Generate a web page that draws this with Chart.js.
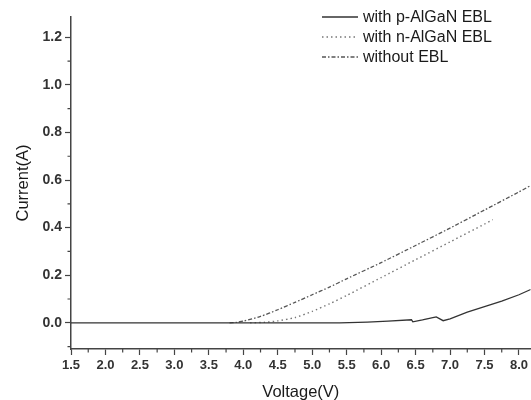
<!DOCTYPE html>
<html>
<head>
<meta charset="utf-8">
<script src="https://cdn.jsdelivr.net/npm/chart.js@4/dist/chart.umd.min.js"></script>
<style>
  html, body { margin: 0; padding: 0; background: #fff; }
  #wrap { width: 531px; height: 400px; position: relative; }
</style>
</head>
<body>
<div id="wrap"><canvas id="chart"></canvas></div>
<script>
// I-V curves for three EBL designs

// series labels
const seriesNames = ['with p-AlGaN EBL', 'with n-AlGaN EBL', 'without EBL'];

// with p-AlGaN EBL (solid)
const pVoltage = [1.5, 5.4, 5.8, 6.1, 6.44, 6.46, 6.6, 6.75, 6.8, 6.9, 7.0, 7.25, 7.5, 7.75, 8.0, 8.17];
const pCurrent = [0, 0, 0.003, 0.007, 0.013, 0.004, 0.012, 0.022, 0.025, 0.009, 0.017, 0.045, 0.068, 0.091, 0.118, 0.14];

// with n-AlGaN EBL (dotted)
const nVoltage = [4.1, 4.3, 4.5, 4.75, 5.0, 5.25, 5.5, 6.0, 6.5, 7.0, 7.5, 7.62];
const nCurrent = [0, 0.002, 0.008, 0.022, 0.048, 0.08, 0.115, 0.19, 0.265, 0.34, 0.415, 0.434];

// without EBL (dash-dot)
const woVoltage = [3.8, 3.9, 4.0, 4.25, 4.5, 4.75, 5.0, 5.25, 5.5, 6.0, 6.5, 7.0, 7.5, 8.0, 8.17];
const woCurrent = [0, 0.002, 0.007, 0.027, 0.055, 0.086, 0.118, 0.15, 0.185, 0.253, 0.325, 0.398, 0.474, 0.55, 0.577];

// axis ticks
const xTicks = [1.5, 2.0, 2.5, 3.0, 3.5, 4.0, 4.5, 5.0, 5.5, 6.0, 6.5, 7.0, 7.5, 8.0];
const yTicks = [0.0, 0.2, 0.4, 0.6, 0.8, 1.0, 1.2];
const xMinor = [1.75, 2.25, 2.75, 3.25, 3.75, 4.25, 4.75, 5.25, 5.75, 6.25, 6.75, 7.25, 7.75];
const yMinor = [-0.1, 0.1, 0.3, 0.5, 0.7, 0.9, 1.1];

const axisColor = '#444';
const textColor = '#333';

function toPoints(xs, ys) {
  return xs.map((x, i) => ({ x: x, y: ys[i] }));
}

// short minor ticks + legend drawn on the canvas
const extrasPlugin = {
  id: 'extras',
  afterDraw(chart) {
    const ctx = chart.ctx;
    const xs = chart.scales.x;
    const ys = chart.scales.y;
    const area = chart.chartArea;
    ctx.save();
    ctx.strokeStyle = axisColor;
    ctx.lineWidth = 1.2;
    ctx.beginPath();
    xMinor.forEach(v => {
      const px = xs.getPixelForValue(v);
      ctx.moveTo(px, area.bottom);
      ctx.lineTo(px, area.bottom + 3.5);
    });
    yMinor.forEach(v => {
      const py = ys.getPixelForValue(v);
      ctx.moveTo(area.left, py);
      ctx.lineTo(area.left - 3.5, py);
    });
    ctx.stroke();

    // legend
    const lx = 322, lw = 36, ly0 = 17, gap = 20;
    ctx.font = '16px "Liberation Sans", Arial, sans-serif';
    ctx.textBaseline = 'middle';
    ctx.fillStyle = '#1a1a1a';
    chart.data.datasets.forEach((ds, i) => {
      const y = ly0 + i * gap;
      ctx.strokeStyle = ds.borderColor;
      ctx.lineWidth = ds.borderWidth;
      ctx.setLineDash(ds.borderDash || []);
      ctx.beginPath();
      ctx.moveTo(lx, y);
      ctx.lineTo(lx + lw, y);
      ctx.stroke();
      ctx.setLineDash([]);
      ctx.fillText(ds.label, lx + lw + 5, y + 1);
    });
    ctx.restore();
  }
};

const ctx = document.getElementById('chart').getContext('2d');
new Chart(ctx, {
  type: 'line',
  data: {
    datasets: [
      {
        label: seriesNames[0],
        data: toPoints(pVoltage, pCurrent),
        borderColor: '#333',
        borderWidth: 1.3,
        pointRadius: 0,
        tension: 0
      },
      {
        label: seriesNames[1],
        data: toPoints(nVoltage, nCurrent),
        borderColor: '#777',
        borderWidth: 1.4,
        borderDash: [1.5, 3],
        pointRadius: 0,
        tension: 0.2
      },
      {
        label: seriesNames[2],
        data: toPoints(woVoltage, woCurrent),
        borderColor: '#555',
        borderWidth: 1.3,
        borderDash: [4, 2, 1.5, 2],
        pointRadius: 0,
        tension: 0.2
      }
    ]
  },
  options: {
    responsive: true,
    maintainAspectRatio: false,
    animation: false,
    layout: { padding: { top: 17, right: 0, left: 0, bottom: 0 } },
    plugins: {
      legend: { display: false },
      tooltip: { enabled: false }
    },
    scales: {
      x: {
        type: 'linear',
        min: 1.5,
        max: 8.17,
        afterFit: s => { s.height = 51; },
        afterBuildTicks: s => { s.ticks = xTicks.map(v => ({ value: v })); },
        border: { display: true, color: axisColor, width: 1.5 },
        grid: { drawOnChartArea: false, drawTicks: true, tickLength: 6, tickColor: axisColor, tickWidth: 1.2 },
        ticks: {
          padding: 3,
          color: textColor,
          font: { family: '"Liberation Sans", Arial, sans-serif', size: 13, weight: 'bold' },
          callback: v => v.toFixed(1),
          maxRotation: 0,
          autoSkip: false
        },
        title: {
          display: true,
          text: 'Voltage(V)',
          color: '#1a1a1a',
          font: { family: '"Liberation Sans", Arial, sans-serif', size: 16.5, lineHeight: 0.9 },
          padding: { top: 0, bottom: 0 }
        }
      },
      y: {
        type: 'linear',
        min: -0.11,
        max: 1.285,
        afterFit: s => { s.width = 71; },
        afterBuildTicks: s => { s.ticks = yTicks.map(v => ({ value: v })); },
        border: { display: true, color: axisColor, width: 1.5 },
        grid: { drawOnChartArea: false, drawTicks: true, tickLength: 6, tickColor: axisColor, tickWidth: 1.2 },
        ticks: {
          padding: 3,
          color: textColor,
          font: { family: '"Liberation Sans", Arial, sans-serif', size: 14, weight: 'bold' },
          callback: v => v.toFixed(1),
          autoSkip: false
        },
        title: {
          display: true,
          text: 'Current(A)',
          color: '#1a1a1a',
          font: { family: '"Liberation Sans", Arial, sans-serif', size: 16.5 },
          padding: { top: 14, bottom: 0 }
        }
      }
    }
  },
  plugins: [extrasPlugin]
});
</script>
</body>
</html>
